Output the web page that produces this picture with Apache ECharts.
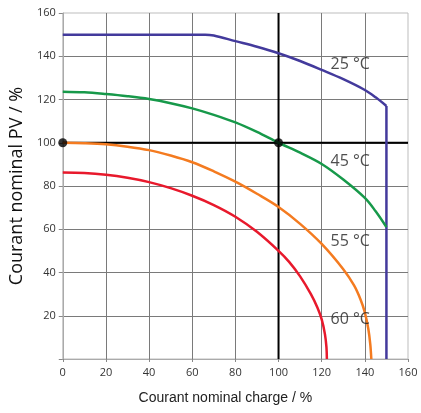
<!DOCTYPE html>
<html><head><meta charset="utf-8">
<script src="https://cdn.jsdelivr.net/npm/echarts@6/dist/echarts.min.js"></script>
<style>html,body{margin:0;padding:0;background:#fff}#c{width:421px;height:413px}</style>
</head><body><div id="c"></div>
<script>
// Curves: [courant charge %, courant PV %]
const curve25 = [[0,150],[66,150],[70,149.6],[80,147],[90,144.4],[100,141.4],[110,137.8],[120,133.7],[130,129.4],[140,124.4],[145,121],[150,117]];
const curve25Vertical = [[150,117],[150,0]];
const curve45 = [[0,123.6],[10,123.3],[20,122.5],[30,121.5],[40,120.2],[50,118.3],[60,115.9],[70,112.9],[80,109.4],[90,105],[100,100],[110,95.4],[120,90.2],[130,83],[140,74.5],[145,68.3],[150,61]];
const curve55 = [[0,100],[10,99.8],[20,99.3],[30,98.2],[40,96.6],[50,94.1],[60,91],[70,86.8],[80,82],[90,76.4],[100,70.3],[110,62.5],[120,53.2],[130,41.5],[135,34],[138,27.5],[140,21.5],[141.6,14],[142.5,7],[143,0]];
const curve60 = [[0,86.2],[10,86],[20,85.2],[30,83.8],[40,81.8],[50,79],[60,75.5],[70,71.2],[80,65.8],[90,58.8],[100,50],[105,44.8],[110,38.2],[115,30],[118,23.8],[120,18.3],[121.5,11.5],[122.2,5.5],[122.4,0]];
const refX = 100;
const refY = 100;
const refPoints = [[0,100],[100,100]];
const curveNames = ['25 °C','45 °C','55 °C','60 °C'];
const curveLabelAnchors = [[133.2,136],[133.2,91.2],[133.2,54.2],[133.2,18.4]];
const axisMin = 0, axisMax = 160, axisStep = 20;

const chart = echarts.init(document.getElementById('c'), null, {renderer:'canvas'});
const lineCommon = {type:'line', showSymbol:false, smooth:0.35, silent:true, clip:false, z:5};
const colors = ['#433a9c','#17994a','#f47b20','#e8192c'];
chart.setOption({
  animation:false,
  grid:{left:62,right:13,top:13,bottom:54,show:true,borderColor:'#bdbdbd',borderWidth:1},
  xAxis:{type:'value',min:axisMin,max:axisMax,interval:axisStep,
    name:'Courant nominal charge / %',nameLocation:'middle',nameGap:32,
    nameTextStyle:{fontFamily:'Liberation Sans',fontSize:14,color:'#222',padding:[0,20,0,0]},
    axisLine:{show:true,lineStyle:{color:'#aaa',width:1}},
    axisTick:{show:true,length:3,lineStyle:{color:'#888'}},
    axisLabel:{margin:8,fontFamily:'Open Sans',fontSize:11,color:'#333'},
    splitLine:{show:true,showMinLine:false,showMaxLine:false,lineStyle:{color:'#7a7a7a',width:1}}},
  yAxis:{type:'value',min:axisMin,max:axisMax,interval:axisStep,
    name:'Courant nominal PV / %',nameLocation:'middle',nameGap:35,
    nameTextStyle:{fontFamily:'Open Sans',fontSize:18,color:'#111'},
    axisLine:{show:true,lineStyle:{color:'#aaa',width:1}},
    axisTick:{show:true,length:4,lineStyle:{color:'#888'}},
    axisLabel:{margin:7,fontFamily:'Open Sans',fontSize:11,color:'#333',formatter:v=>v===0?'':String(v)},
    splitLine:{show:true,showMinLine:false,showMaxLine:false,lineStyle:{color:'#7a7a7a',width:1}}},
  series:[
    {type:'line',showSymbol:false,silent:true,z:3,data:[[refX,axisMin],[refX,axisMax]],lineStyle:{color:'#000',width:2}},
    {type:'line',showSymbol:false,silent:true,z:3,data:[[axisMin,refY],[axisMax,refY]],lineStyle:{color:'#000',width:2}},
    Object.assign({},lineCommon,{data:curve25,lineStyle:{color:colors[0],width:2.5}}),
    Object.assign({},lineCommon,{smooth:false,data:curve25Vertical,lineStyle:{color:colors[0],width:2.5}}),
    Object.assign({},lineCommon,{data:curve45,lineStyle:{color:colors[1],width:2.5}}),
    Object.assign({},lineCommon,{data:curve55,lineStyle:{color:colors[2],width:2.5}}),
    Object.assign({},lineCommon,{data:curve60,lineStyle:{color:colors[3],width:2.5}}),
    {type:'scatter',silent:true,clip:false,z:10,symbolSize:9,itemStyle:{color:'#000'},data:refPoints},
    {type:'scatter',silent:true,clip:false,z:11,symbolSize:0,
      data:curveLabelAnchors.map((p,i)=>({value:p,name:curveNames[i]})),
      label:{show:true,position:'inside',formatter:p=>p.name,fontFamily:'Open Sans',fontSize:16,color:'#222'}}
  ]
});
</script></body></html>
